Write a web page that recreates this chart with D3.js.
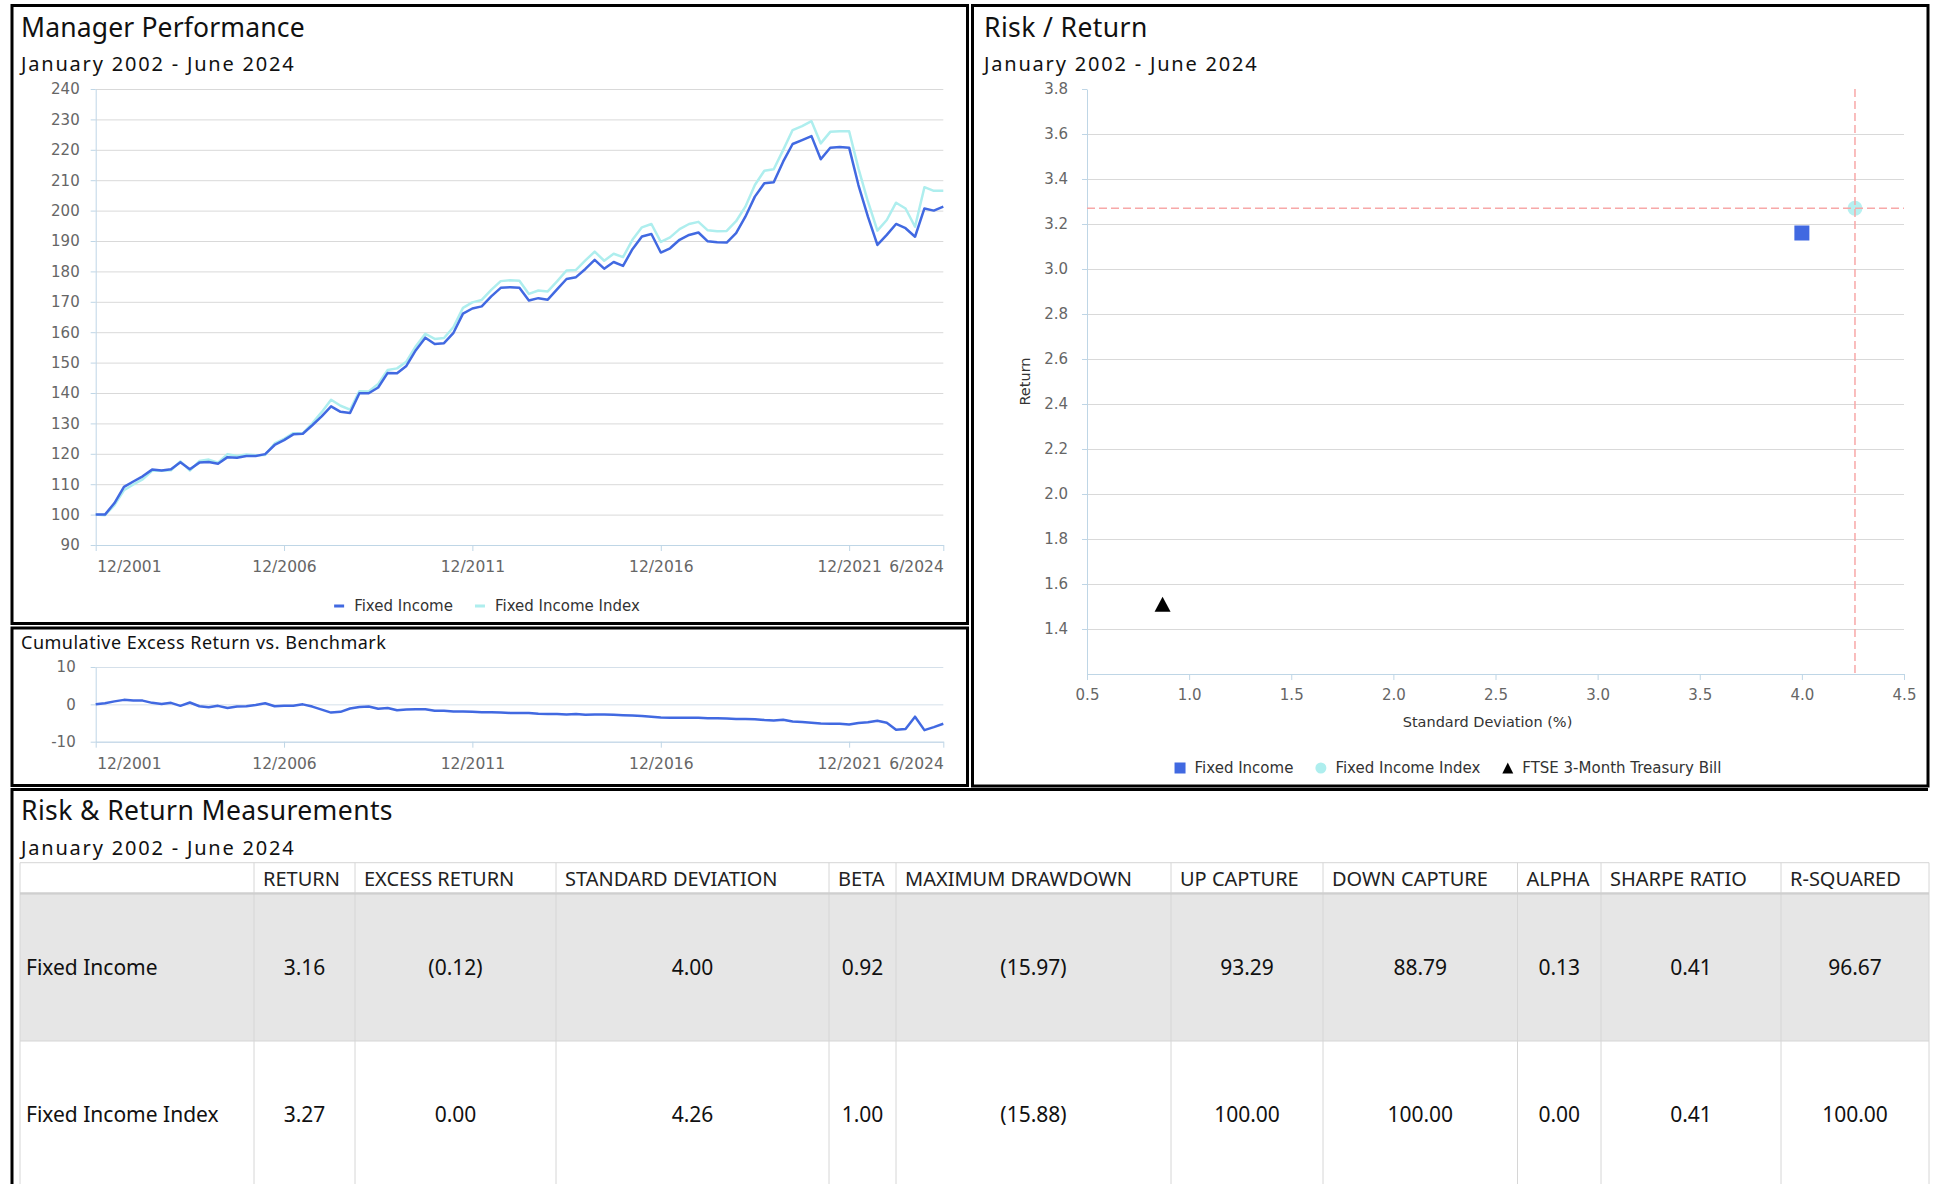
<!DOCTYPE html>
<html>
<head>
<meta charset="utf-8">
<script src="https://d3js.org/d3.v7.min.js"></script>
<style>
  body { margin: 0; background: #fff; }
  svg text { font-family: "Noto Sans", sans-serif; }
  .tick text { font-family: "DejaVu Sans", sans-serif; fill: #666; }
  .legend text { font-family: "DejaVu Sans", sans-serif; fill: #333; font-size: 15px; }
  .axis-title { font-family: "DejaVu Sans", sans-serif; fill: #333; font-size: 14.5px; }
</style>
</head>
<body>
<svg id="page" width="1935" height="1184"></svg>
<script>

// ---------- data ----------
const fixedIncome = [
  100, 100, 103.8, 109.1, 110.9, 112.6, 114.8, 114.5, 114.9, 117.2,
  114.9, 117.1, 117.3, 116.7, 118.9, 118.7, 119.3, 119.3, 119.9, 122.9,
  124.5, 126.4, 126.6, 129.4, 132.3, 135.6, 133.8, 133.4, 139.9, 139.9,
  141.8, 146.6, 146.5, 148.9, 154.1, 158.2, 156.1, 156.4, 159.8, 166.1,
  167.8, 168.5, 171.8, 174.6, 174.8, 174.6, 170.4, 171.2, 170.7, 174.1,
  177.5, 178.1, 180.8, 183.8, 180.9, 183.1, 181.8, 187.3, 191.5, 192.3,
  186.2, 187.6, 190.4, 192.0, 192.8, 189.9, 189.6, 189.5, 192.6, 198.0,
  204.6, 209.0, 209.3, 216.1, 221.9, 223.2, 224.5, 216.9, 220.7, 220.9,
  220.7, 208.4, 198.0, 188.7, 192.0, 195.6, 194.2, 191.4, 200.7, 200.0,
  201.3
];
const fixedIncomeIndex = [
  100, 99.8, 103.1, 108.0, 109.9, 111.6, 114.4, 114.4, 114.6, 117.5,
  114.5, 117.6, 118.1, 117.1, 119.9, 119.3, 119.8, 119.5, 119.6, 123.4,
  124.9, 126.8, 126.7, 130.0, 133.7, 137.8, 135.8, 134.5, 140.6, 140.5,
  143.0, 147.6, 148.1, 150.3, 155.4, 159.5, 157.8, 158.1, 161.7, 168.0,
  169.8, 170.6, 173.9, 176.8, 177.1, 176.9, 172.6, 173.7, 173.4, 176.7,
  180.3, 180.5, 183.6, 186.5, 183.5, 185.8, 184.7, 190.4, 194.5, 195.6,
  189.7, 191.2, 193.9, 195.6, 196.3, 193.5, 193.2, 193.3, 196.5, 201.3,
  208.4, 213.1, 213.6, 219.9, 226.5, 227.8, 229.4, 222.1, 225.9, 226.1,
  226.1, 213.9, 203.0, 193.4, 196.9, 202.6, 200.7, 194.7, 207.7, 206.5,
  206.5
];
const excessReturn = [
  0, 0.3, 0.8, 1.2, 1.0, 1.0, 0.4, 0.1, 0.4, -0.4,
  0.5, -0.5, -0.8, -0.4, -1.0, -0.6, -0.5, -0.2, 0.3, -0.5,
  -0.4, -0.4, 0.0, -0.6, -1.4, -2.2, -2.0, -1.1, -0.7, -0.6,
  -1.2, -1.0, -1.6, -1.4, -1.3, -1.3, -1.7, -1.7, -1.9, -1.9,
  -2.0, -2.1, -2.1, -2.2, -2.3, -2.3, -2.3, -2.5, -2.6, -2.6,
  -2.7, -2.6, -2.8, -2.7, -2.7, -2.8, -2.9, -3.0, -3.1, -3.3,
  -3.5, -3.6, -3.6, -3.6, -3.6, -3.7, -3.7, -3.8, -3.9, -3.9,
  -4.0, -4.2, -4.3, -4.1, -4.6, -4.7, -4.9, -5.1, -5.2, -5.2,
  -5.4, -5.0, -4.8, -4.4, -4.9, -6.8, -6.6, -3.3, -6.9, -6.1,
  -5.2
];
// quarter ends, Dec 2001 .. Jun 2024
const quarters = d3.timeMonth.range(new Date(2001, 11, 1), new Date(2024, 6, 1), 3);
const dateTicks = [new Date(2001, 11, 1), new Date(2006, 11, 1), new Date(2011, 11, 1),
                   new Date(2016, 11, 1), new Date(2021, 11, 1), new Date(2024, 5, 1)];
const perfTicks = d3.range(90, 241, 10);
const excessTicks = [-10, 0, 10];

const riskNames = ["Fixed Income", "Fixed Income Index", "FTSE 3-Month Treasury Bill"];
const riskStdDev = [4.00, 4.26, 0.87];
const riskReturn = [3.16, 3.27, 1.51];
const riskYTicks = [1.4, 1.6, 1.8, 2.0, 2.2, 2.4, 2.6, 2.8, 3.0, 3.2, 3.4, 3.6, 3.8];
const riskXTicks = [0.5, 1.0, 1.5, 2.0, 2.5, 3.0, 3.5, 4.0, 4.5];

const tableHeaders = ["", "RETURN", "EXCESS RETURN", "STANDARD DEVIATION", "BETA", "MAXIMUM DRAWDOWN",
                      "UP CAPTURE", "DOWN CAPTURE", "ALPHA", "SHARPE RATIO", "R-SQUARED"];
const tableRowNames = ["Fixed Income", "Fixed Income Index"];
const fixedIncomeStats = ["3.16", "(0.12)", "4.00", "0.92", "(15.97)", "93.29", "88.79", "0.13", "0.41", "96.67"];
const indexStats = ["3.27", "0.00", "4.26", "1.00", "(15.88)", "100.00", "100.00", "0.00", "0.41", "100.00"];

// ---------- page ----------
const svg = d3.select("#page");
const blue = "#4169e1", cyan = "#aeeeee";
const axisColor = "#bfd6e6", gridColor = "#d9d9d9";

// panel frames
[[12, 5.5, 955.5, 618], [12, 628, 955.5, 157.5], [972.5, 5.5, 955.5, 780.5]]
  .forEach(p => svg.append("rect")
    .attr("x", p[0]).attr("y", p[1]).attr("width", p[2]).attr("height", p[3])
    .attr("fill", "none").attr("stroke", "#000").attr("stroke-width", 3));
svg.append("path").attr("d", "M12,1200V789.5H1928")
  .attr("fill", "none").attr("stroke", "#000").attr("stroke-width", 3);

function title(x, y, txt, size, spacing) {
  svg.append("text").attr("x", x).attr("y", y).style("font-size", size + "px")
    .style("letter-spacing", spacing + "px").attr("fill", "#111").text(txt);
}
title(21, 37, "Manager Performance", 26.5, 0.15);
title(21, 70.5, "January 2002 - June 2024", 20, 1.8);
title(21, 649, "Cumulative Excess Return vs. Benchmark", 18, 0.5);
title(984, 37, "Risk / Return", 26.5, 0.4);
title(984, 70.5, "January 2002 - June 2024", 20, 1.8);
title(21, 820, "Risk & Return Measurements", 26.5, 0.4);
title(21, 855, "January 2002 - June 2024", 20, 1.8);

function styleAxis(g, size) {
  g.select(".domain").attr("stroke", axisColor);
  g.selectAll(".tick line").attr("stroke", axisColor);
  g.selectAll(".tick text").style("font-size", size + "px");
}

// time axis shared by the two line charts
const xTime = d3.scaleTime().domain([quarters[0], quarters[quarters.length - 1]]).range([95.7, 943.3]);

function timeAxis(yPos) {
  const g = svg.append("g").attr("transform", `translate(0,${yPos})`)
    .call(d3.axisBottom(xTime).tickValues(dateTicks).tickFormat(d3.timeFormat("%-m/%Y"))
      .tickSize(6).tickSizeOuter(0))
    .call(g => styleAxis(g, 15.5));
  g.selectAll(".tick text").attr("y", 27).attr("dy", 0)
    .attr("text-anchor", (d, i) => i === 0 ? "start" : (i === dateTicks.length - 1 ? "end" : "middle"))
    .attr("dx", (d, i) => i === 0 ? 1 : 0);
}

function gridY(scale, ticks, x0, x1, color) {
  svg.append("g").attr("transform", `translate(${x0},0)`)
    .call(d3.axisLeft(scale).tickValues(ticks).tickSize(-(x1 - x0)).tickFormat(""))
    .call(g => g.select(".domain").remove())
    .call(g => g.selectAll("line").attr("stroke", color));
}

function axisY(scale, ticks, x0, fmt, pad) {
  svg.append("g").attr("transform", `translate(${x0},0)`)
    .call(d3.axisLeft(scale).tickValues(ticks).tickFormat(fmt).tickSize(5).tickPadding(pad).tickSizeOuter(0))
    .call(g => styleAxis(g, 15));
}

// ---------- Manager Performance ----------
const perfY = d3.scaleLinear().domain([90, 240]).range([545, 89]);
gridY(perfY, perfTicks, 95.7, 943.3, gridColor);
axisY(perfY, perfTicks, 95.7, d3.format("d"), 11);
timeAxis(545);

const perfLine = d3.line().x((d, i) => xTime(quarters[i])).y(d => perfY(d));
[[fixedIncomeIndex, cyan], [fixedIncome, blue]].forEach(s => {
  svg.append("path").datum(s[0]).attr("d", perfLine)
    .attr("fill", "none").attr("stroke", s[1]).attr("stroke-width", 2.5)
    .attr("stroke-linejoin", "round");
});

function legend(items, cx, cy) {
  const g = svg.append("g").attr("class", "legend");
  let x = 0;
  items.forEach(it => {
    const ig = g.append("g").attr("transform", `translate(${x},0)`);
    it.draw(ig);
    const t = ig.append("text").attr("x", 20).attr("y", 5).text(it.label);
    x += 20 + t.node().getComputedTextLength() + 22;
  });
  g.attr("transform", `translate(${cx - (x - 22) / 2},${cy})`);
}

legend([
  { label: "Fixed Income", draw: g => g.append("rect").attr("x", 0).attr("y", -1.5).attr("width", 10).attr("height", 3).attr("fill", blue) },
  { label: "Fixed Income Index", draw: g => g.append("rect").attr("x", 0).attr("y", -1.5).attr("width", 10).attr("height", 3).attr("fill", cyan) }
], 487, 606);

// ---------- Cumulative excess ----------
const excY = d3.scaleLinear().domain([-10, 10]).range([741.7, 667]);
gridY(excY, excessTicks, 95.7, 943.3, "#d5e0ea");
axisY(excY, excessTicks, 95.7, d => d3.format("d")(d).replace("−", "-"), 15);
timeAxis(741.7);
svg.append("path").datum(excessReturn)
  .attr("d", d3.line().x((d, i) => xTime(quarters[i])).y(d => excY(d)))
  .attr("fill", "none").attr("stroke", blue).attr("stroke-width", 2.5).attr("stroke-linejoin", "round");

// ---------- Risk / Return ----------
const rx = d3.scaleLinear().domain([0.5, 4.5]).range([1087, 1904]);
const ry = d3.scaleLinear().domain([1.2, 3.8]).range([674, 89]);
gridY(ry, riskYTicks.filter(v => v < 3.7), 1087, 1904, gridColor);
axisY(ry, riskYTicks, 1087, d3.format(".1f"), 14);
svg.append("g").attr("transform", "translate(0,674)")
  .call(d3.axisBottom(rx).tickValues(riskXTicks).tickFormat(d3.format(".1f")).tickSize(6).tickSizeOuter(0))
  .call(g => styleAxis(g, 15))
  .call(g => g.selectAll(".tick text").attr("y", 26).attr("dy", 0));

svg.append("text").attr("class", "axis-title").attr("transform", "translate(1030,381.5) rotate(-90)")
  .attr("text-anchor", "middle").text("Return");
svg.append("text").attr("class", "axis-title")
  .attr("x", (rx.range()[0] + rx.range()[1]) / 2 - 8).attr("y", 727)
  .attr("text-anchor", "middle").text("Standard Deviation (%)");

function triPath(x, y, w, h) {
  return `M${x},${y - h / 2}L${x + w / 2},${y + h / 2}L${x - w / 2},${y + h / 2}Z`;
}

// Fixed Income square
svg.append("rect").attr("x", rx(riskStdDev[0]) - 7.5).attr("y", ry(riskReturn[0]) - 7.5)
  .attr("width", 15).attr("height", 15).attr("fill", blue);
// Index circle
svg.append("circle").attr("cx", rx(riskStdDev[1])).attr("cy", ry(riskReturn[1])).attr("r", 7.5)
  .attr("fill", cyan).attr("opacity", 0.9);
// T-bill triangle
svg.append("path").attr("d", triPath(rx(riskStdDev[2]), ry(riskReturn[2]), 16, 15)).attr("fill", "#000");

// benchmark cross-hair
svg.append("line").attr("x1", rx(riskStdDev[1])).attr("x2", rx(riskStdDev[1]))
  .attr("y1", ry(3.8)).attr("y2", ry(1.2))
  .attr("stroke", "#f7a8a8").attr("stroke-width", 1.5).attr("stroke-dasharray", "8,4");
svg.append("line").attr("x1", rx(0.5)).attr("x2", rx(4.5))
  .attr("y1", ry(riskReturn[1])).attr("y2", ry(riskReturn[1]))
  .attr("stroke", "#f7a8a8").attr("stroke-width", 1.5).attr("stroke-dasharray", "8,4");

legend([
  { label: riskNames[0], draw: g => g.append("rect").attr("x", 0).attr("y", -5.5).attr("width", 11).attr("height", 11).attr("fill", blue) },
  { label: riskNames[1], draw: g => g.append("circle").attr("cx", 5.5).attr("cy", 0).attr("r", 5.5).attr("fill", cyan) },
  { label: riskNames[2], draw: g => g.append("path").attr("d", triPath(5.5, 0, 11, 11)).attr("fill", "#000") }
], 1448, 768);

// ---------- Table ----------
const colEdges = [20, 254, 355, 556, 829, 896, 1171, 1323, 1517.5, 1601, 1781, 1929];
const tableTop = 862.7, headerBottom = 893.5, rowH = 146.5;
const rowsData = [fixedIncomeStats, indexStats];
const lineColor = "#d6d6d6";

rowsData.forEach((r, i) => {
  svg.append("rect").attr("x", colEdges[0]).attr("y", headerBottom + 1 + i * rowH)
    .attr("width", colEdges[colEdges.length - 1] - colEdges[0]).attr("height", rowH)
    .attr("fill", i === 0 ? "#e6e6e6" : "#fff");
});
colEdges.forEach(x => svg.append("line").attr("x1", x).attr("x2", x)
  .attr("y1", tableTop).attr("y2", 1190).attr("stroke", lineColor));
svg.append("line").attr("x1", colEdges[0]).attr("x2", colEdges[colEdges.length - 1])
  .attr("y1", tableTop).attr("y2", tableTop).attr("stroke", lineColor);
svg.append("line").attr("x1", colEdges[0]).attr("x2", colEdges[colEdges.length - 1])
  .attr("y1", headerBottom).attr("y2", headerBottom).attr("stroke", "#cfcfcf").attr("stroke-width", 2.5);
svg.append("line").attr("x1", colEdges[0]).attr("x2", colEdges[colEdges.length - 1])
  .attr("y1", headerBottom + 1 + rowH).attr("y2", headerBottom + 1 + rowH).attr("stroke", lineColor);

tableHeaders.forEach((h, i) => {
  svg.append("text").attr("x", colEdges[i] + 9).attr("y", 886)
    .style("font-size", "20px").attr("fill", "#222").text(h);
});
rowsData.forEach((r, i) => {
  const base = headerBottom + 1 + i * rowH + rowH / 2 + 7.5;
  svg.append("text").attr("x", 26).attr("y", base).style("font-size", "21px")
    .attr("fill", "#111").text(tableRowNames[i]);
  r.forEach((v, j) => {
    svg.append("text").attr("x", (colEdges[j + 1] + colEdges[j + 2]) / 2).attr("y", base)
      .attr("text-anchor", "middle").style("font-size", "21px").attr("fill", "#111").text(v);
  });
});

</script>
</body>
</html>
